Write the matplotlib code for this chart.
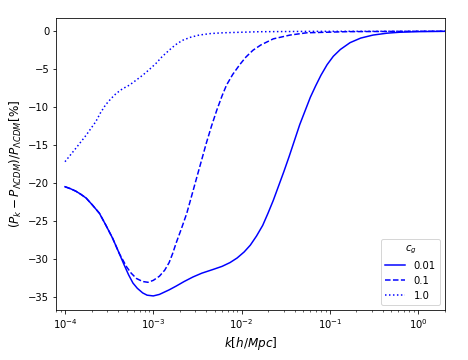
"""
Relative power spectrum suppression for several c_g values
"""
import matplotlib
matplotlib.use('Agg')
from matplotlib import pyplot as plt

# values, x given as log10(k)
logk_001 = [-4.0, -3.94, -3.875, -3.82, -3.76, -3.69, -3.61, -3.54, -3.46,
            -3.385, -3.33, -3.28, -3.23, -3.18, -3.12, -3.07, -3.0, -2.93,
            -2.82, -2.74, -2.65, -2.55, -2.45, -2.32, -2.22, -2.13, -2.05,
            -1.97, -1.90, -1.83, -1.76, -1.70, -1.64, -1.58, -1.52, -1.46,
            -1.40, -1.34, -1.28, -1.22, -1.16, -1.10, -1.03, -0.96, -0.88,
            -0.77, -0.65, -0.51, -0.35, -0.21, 0.0, 0.35]
val_001 = [-20.5, -20.75, -21.1, -21.5, -22.0, -22.9, -24.0, -25.5, -27.3,
           -29.3, -30.8, -32.1, -33.2, -33.9, -34.5, -34.8, -34.9, -34.7,
           -34.1, -33.6, -33.0, -32.4, -31.9, -31.4, -31.0, -30.5, -29.9,
           -29.1, -28.2, -27.0, -25.6, -24.0, -22.3, -20.4, -18.5, -16.5,
           -14.4, -12.3, -10.5, -8.7, -7.2, -5.8, -4.4, -3.3, -2.4,
           -1.5, -0.9, -0.5, -0.25, -0.13, -0.05, 0.0]

logk_01 = [-4.0, -3.94, -3.875, -3.82, -3.76, -3.69, -3.61, -3.54, -3.46,
           -3.385, -3.30, -3.25, -3.19, -3.12, -3.06, -3.0, -2.93, -2.87,
           -2.82, -2.78, -2.74, -2.68, -2.62, -2.56, -2.51, -2.45, -2.40,
           -2.34, -2.28, -2.22, -2.17, -2.10, -2.02, -1.95, -1.87, -1.78,
           -1.64, -1.45, -1.26, -0.8, 0.0, 0.35]
val_01 = [-20.5, -20.75, -21.1, -21.5, -22.0, -22.9, -24.0, -25.5, -27.3,
          -29.3, -31.1, -31.9, -32.6, -33.0, -33.1, -32.85, -32.3, -31.5,
          -30.5, -29.3, -27.9, -26.0, -24.0, -21.5, -19.4, -16.9, -14.8,
          -12.5, -10.4, -8.5, -7.1, -5.7, -4.4, -3.4, -2.5, -1.8,
          -1.0, -0.5, -0.2, -0.05, 0.0, 0.0]

logk_1 = [-4.0, -3.875, -3.76, -3.65, -3.60, -3.54, -3.48, -3.42, -3.35,
          -3.27, -3.20, -3.12, -3.05, -2.97, -2.90, -2.82, -2.75, -2.67,
          -2.58, -2.48, -2.35, -2.21, -1.8, -1.2, 0.0, 0.35]
val_1 = [-17.2, -15.4, -13.7, -11.9, -10.8, -9.7, -8.9, -8.2, -7.6,
         -7.1, -6.5, -5.8, -5.1, -4.25, -3.35, -2.5, -1.8, -1.2,
         -0.8, -0.5, -0.3, -0.2, -0.06, -0.01, 0.0, 0.0]

labels = ['0.01', '0.1', '1.0']
styles = ['-', '--', ':']

fig = plt.figure(figsize=(6.5, 5.0), dpi=72)
ax = fig.add_axes([0.12, 0.139, 0.83, 0.811])

for (lk, v), ls, lab in zip([(logk_001, val_001), (logk_01, val_01), (logk_1, val_1)],
                           styles, labels):
    k = [10**x for x in lk]
    ax.plot(k, v, color='b', linestyle=ls, label=lab)

ax.set_xscale('log')
ax.set_xlim(10**-4.1, 2.0)
ax.set_ylim(-36.75, 1.75)
ax.set_xlabel(r'$k[h/Mpc]$', fontsize=12)
ax.set_ylabel(r'$(P_k-P_{\Lambda CDM})/P_{\Lambda CDM}[\%]$', fontsize=12)
ax.legend(title=r'$c_g$', loc='lower right')

plt.savefig('out.png', dpi=72)
